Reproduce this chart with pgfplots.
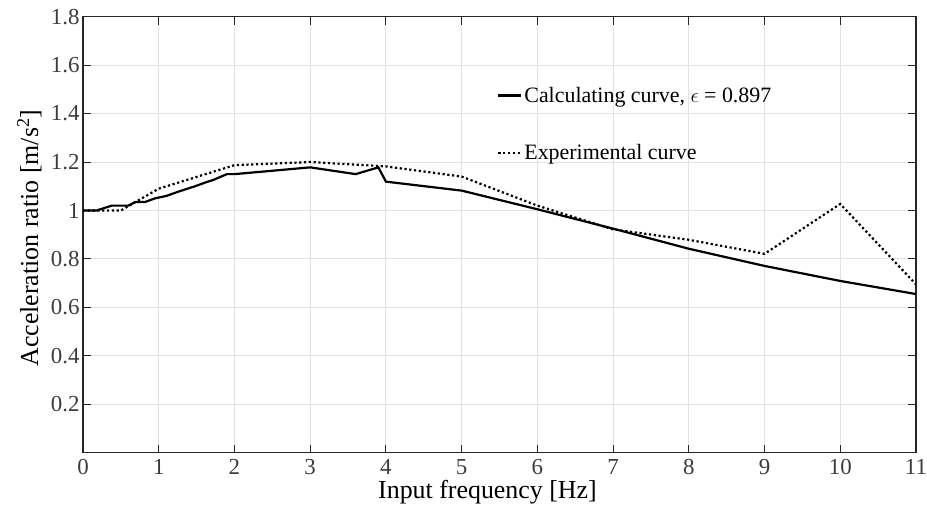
\documentclass[border=0pt]{standalone}
\usepackage{fontspec}
\setmainfont{Liberation Serif}
\usepackage{pgfplots}
\pgfplotsset{compat=1.18}
\definecolor{axgray}{HTML}{262626}
\definecolor{gridgray}{HTML}{E3E3E3}
\begin{document}
\begin{tikzpicture}
\path[use as bounding box] (-83bp,-53bp) rectangle (844bp,452.7bp);
\begin{axis}[
  scale only axis,
  width=833bp, height=436bp,
  xmin=0, xmax=11, ymin=0, ymax=1.8,
  xtick={0,1,...,11},
  ytick={0.2,0.4,0.6,0.8,1,1.2,1.4,1.6,1.8},
  yticklabels={0.2,0.4,0.6,0.8,1,1.2,1.4,1.6,1.8},
  xticklabels={0,1,2,3,4,5,6,7,8,9,10,11},
  tick align=inside,
  tick pos=both,
  major tick length=8bp,
  tick style={color=axgray, line width=1bp},
  axis line style={color=axgray, line width=1.3bp},
  grid=major,
  major grid style={color=gridgray, line width=1bp},
  ticklabel style={font=\fontsize{23}{27}\selectfont, color=axgray!90},
  xticklabel style={yshift=-3bp},
  /pgf/number format/assume math mode=true,
  xlabel={Input frequency [Hz]},
  ylabel={Acceleration ratio [m/s\textsuperscript{2}]},
  label style={font=\fontsize{26}{31}\selectfont},
  xlabel style={at={(axis description cs:0.4856,-0.1055)}, anchor=base},
  ylabel style={at={(axis description cs:-0.054,0.492)}, anchor=base},
  legend style={at={(axis description cs:0.497,0.839)}, anchor=north west,
    draw=none, fill=none, inner sep=0pt,
    font=\fontsize{22}{26}\selectfont,
    row sep=41bp,
    nodes={inner xsep=2bp, inner ysep=0pt}},
  legend cell align=left,
  legend image code/.code={\draw[#1] (0bp,0bp) -- (23bp,0bp);},
]
\addplot[black, line width=2.2bp] coordinates {
(0,1.0) (0.18,1.0) (0.38,1.02) (0.6,1.02) (0.69,1.035) (0.82,1.035)
(0.95,1.05) (1.1,1.06) (1.28,1.08) (1.48,1.10) (1.63,1.117) (1.72,1.126)
(1.9,1.15) (2.0,1.15) (3.0,1.178) (3.6,1.150) (3.9,1.178) (4.0,1.119)
(5.0,1.082) (6.0,1.005) (7.0,0.925) (8.0,0.842) (9.0,0.771) (10.0,0.709) (11.0,0.655)
};
\addlegendentry{Calculating curve, $\epsilon$ = 0.897}
\addplot[black, line width=2.2bp, dash pattern=on 2.2bp off 2.6bp] coordinates {
(0,1.0) (0.5,1.0) (1.0,1.09) (2.0,1.187) (3.0,1.2) (4.0,1.182) (5.0,1.14)
(6.0,1.02) (7.0,0.922) (8.0,0.879) (9.0,0.821) (10.0,1.027) (11.0,0.695)
};
\addlegendentry{Experimental curve}
\end{axis}
\end{tikzpicture}
\end{document}
